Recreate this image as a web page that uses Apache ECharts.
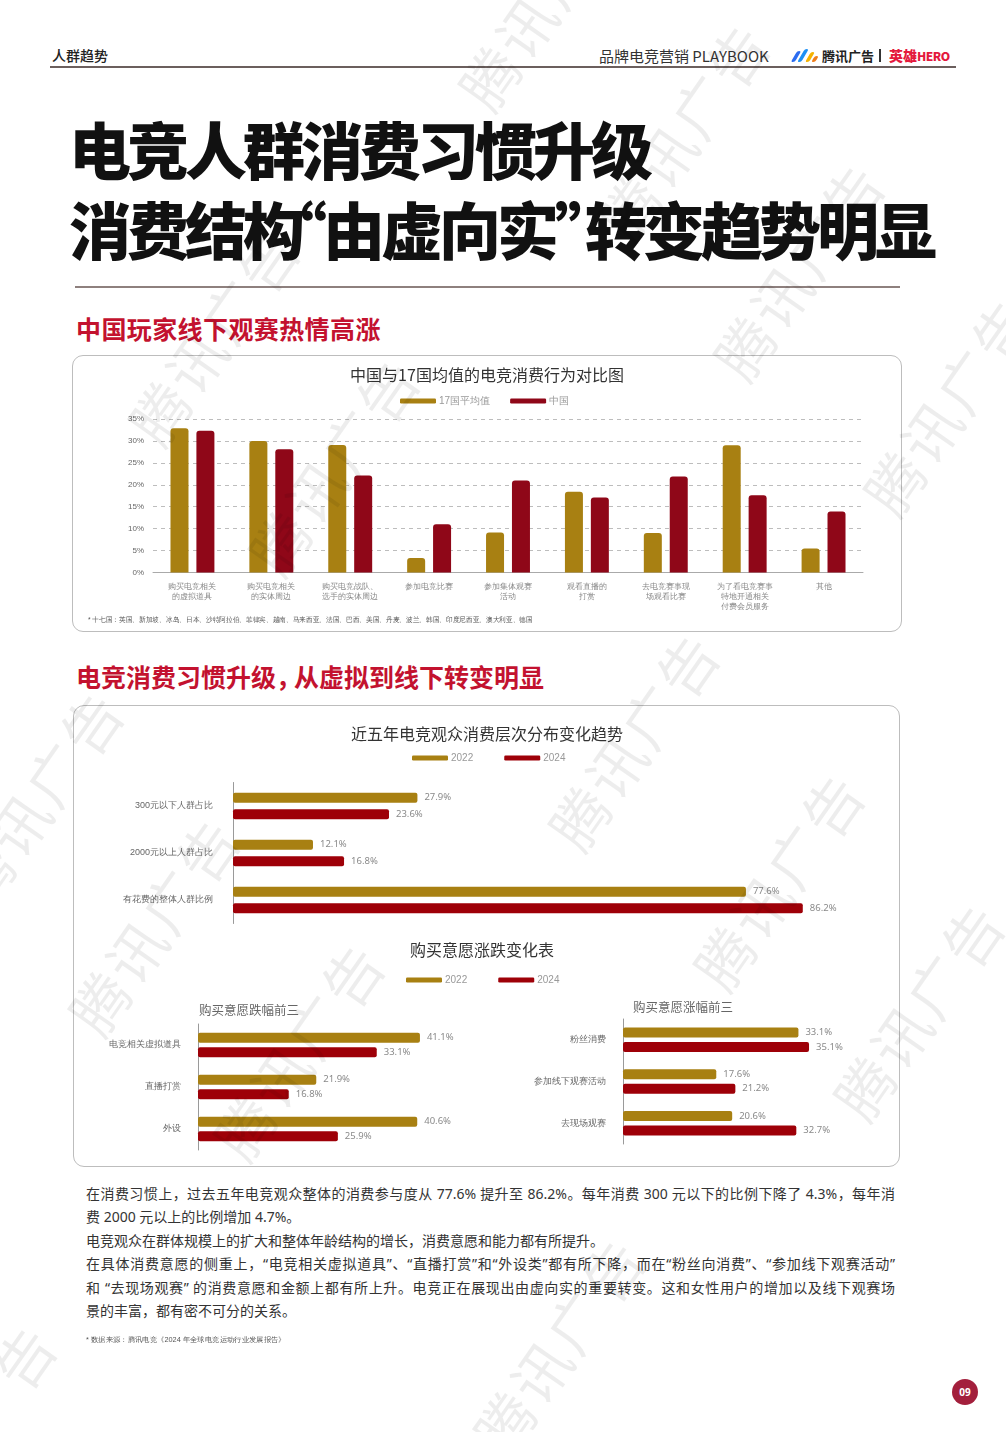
<!DOCTYPE html>
<html lang="zh-CN">
<head>
<meta charset="utf-8">
<script src="https://cdn.jsdelivr.net/npm/echarts@6/dist/echarts.min.js"></script>
<style>
  html,body{margin:0;padding:0;background:#fff;}
  body{width:1006px;height:1432px;position:relative;overflow:hidden;font-family:"Noto Sans CJK SC","Noto Sans",sans-serif;}
  .abs{position:absolute;white-space:nowrap;}
  .box{position:absolute;border:1px solid #bdbdbd;border-radius:11px;box-sizing:border-box;}
  .big{position:absolute;left:69px;font-size:62px;line-height:76px;font-weight:900;color:#111;letter-spacing:-4px;white-space:nowrap;}
  .sec{position:absolute;left:76px;font-size:25px;line-height:32px;font-weight:700;color:#c3122f;white-space:nowrap;}
  .para{position:absolute;left:86px;width:809px;font-size:14px;line-height:23.4px;color:#333;font-family:"Noto Sans","Noto Sans CJK SC",sans-serif;}
  .para div{white-space:nowrap;}
  .para .j{text-align:justify;text-align-last:justify;}
  #wm{position:absolute;left:0;top:0;width:1006px;height:1432px;pointer-events:none;z-index:5;overflow:hidden;}
  #wm span{position:absolute;transform:translate(-50%,-50%) rotate(-55deg);font-size:58px;letter-spacing:4px;color:rgba(0,0,0,0.07);white-space:nowrap;font-family:"Noto Sans CJK SC",sans-serif;}
  #chart{position:absolute;left:0;top:0;width:1006px;height:1432px;z-index:2;}
</style>
</head>
<body>
<!-- header -->
<div class="abs" style="left:52px;top:45px;font-size:14px;line-height:20px;font-weight:500;color:#222;">人群趋势</div>
<div class="abs" style="left:599px;top:46px;font-size:15px;line-height:20px;color:#333;">品牌电竞营销 PLAYBOOK</div>
<div class="abs" style="left:792px;top:49px;width:26px;height:14px;">
  <div style="position:absolute;left:2px;top:2px;width:4px;height:11px;background:#2b6cf0;transform:skewX(-30deg);border-radius:2px;"></div>
  <div style="position:absolute;left:9px;top:0px;width:4px;height:13px;background:#1d8ff5;transform:skewX(-30deg);border-radius:2px;"></div>
  <div style="position:absolute;left:16px;top:3px;width:4px;height:10px;background:#f5b301;transform:skewX(-30deg);border-radius:2px;"></div>
  <div style="position:absolute;left:21px;top:7px;width:4px;height:6px;background:#ef7d1a;transform:skewX(-30deg);border-radius:2px;"></div>
</div>
<div class="abs" style="left:822px;top:46px;font-size:13px;line-height:20px;font-weight:700;color:#222;">腾讯广告</div>
<div class="abs" style="left:879px;top:49px;width:1.5px;height:13px;background:#333;"></div>
<div class="abs" style="left:889px;top:45px;font-size:14px;line-height:20px;font-weight:900;color:#e4193d;">英雄<span style="font-size:12px;letter-spacing:-0.5px;">HERO</span></div>
<div class="abs" style="left:50px;top:66px;width:906px;height:2px;background:#6b5f5d;"></div>

<!-- big title -->
<div class="big" style="top:110px;">电竞人群消费习惯升级</div>
<div class="big" style="top:190px;">消费结构<span style="margin-left:-36px;">“</span>由虚向实<span style="margin-right:-28px;">”</span>转变趋势明显</div>
<div class="abs" style="left:75px;top:286px;width:825px;height:2px;background:#8e807e;"></div>

<!-- sections -->
<div class="sec" style="top:312px;letter-spacing:0.4px;">中国玩家线下观赛热情高涨</div>
<div class="box" style="left:72px;top:355px;width:830px;height:277px;"></div>
<div class="sec" style="top:660px;">电竞消费习惯升级<span style="margin-right:-7px;">，</span>从虚拟到线下转变明显</div>
<div class="box" style="left:73px;top:705px;width:827px;height:462px;"></div>

<!-- paragraph -->
<div class="para" style="top:1182px;">
  <div class="j">在消费习惯上，过去五年电竞观众整体的消费参与度从 77.6% 提升至 86.2%。每年消费 300 元以下的比例下降了 4.3%，每年消</div>
  <div>费 2000 元以上的比例增加 4.7%。</div>
  <div>电竞观众在群体规模上的扩大和整体年龄结构的增长，消费意愿和能力都有所提升。</div>
  <div class="j">在具体消费意愿的侧重上，“电竞相关虚拟道具”、“直播打赏”和“外设类”都有所下降，而在“粉丝向消费”、“参加线下观赛活动”</div>
  <div class="j">和 “去现场观赛” 的消费意愿和金额上都有所上升。电竞正在展现出由虚向实的重要转变。这和女性用户的增加以及线下观赛场</div>
  <div>景的丰富，都有密不可分的关系。</div>
</div>

<!-- page number -->
<div class="abs" style="left:952px;top:1379px;width:26px;height:26px;border-radius:13px;background:#a31f3c;color:#fff;font-size:10px;font-weight:700;line-height:26px;text-align:center;font-family:'Noto Sans',sans-serif;">09</div>

<div id="chart"></div>
<div id="wm"></div>

<script>
// ---------- data ----------
const behaviorCategories = [
  '购买电竞相关\n的虚拟道具',
  '购买电竞相关\n的实体周边',
  '购买电竞战队、\n选手的实体周边',
  '参加电竞比赛',
  '参加集体观赛\n活动',
  '观看直播的\n打赏',
  '去电竞赛事现\n场观看比赛',
  '为了看电竞赛事\n特地开通相关\n付费会员服务',
  '其他'
];
const avg17 = [32.9, 30.0, 29.1, 3.3, 9.1, 18.4, 9.0, 29.0, 5.5];
const china = [32.3, 28.1, 22.1, 11.0, 21.0, 17.1, 21.9, 17.6, 13.9];
const percentTicks = [0, 5, 10, 15, 20, 25, 30, 35];

const tierCategories = ['300元以下人群占比', '2000元以上人群占比', '有花费的整体人群比例'];
const tier2022 = [27.9, 12.1, 77.6];
const tier2024 = [23.6, 16.8, 86.2];

const dropCategories = ['电竞相关虚拟道具', '直播打赏', '外设'];
const drop2022 = [41.1, 21.9, 40.6];
const drop2024 = [33.1, 16.8, 25.9];

const riseCategories = ['粉丝消费', '参加线下观赛活动', '去现场观赛'];
const rise2022 = [33.1, 17.6, 20.6];
const rise2024 = [35.1, 21.2, 32.7];

// ---------- styles ----------
const GOLD = '#a88012';
const RED1 = '#8f0718';
const RED2 = '#9e0008';

// ---------- watermarks ----------
const wmFirst = [[490,75],[630,205],[160,410],[280,540],[745,345],[895,480],[-16,873],[580,815],[100,1000],[725,955],[245,1125],[865,1085],[505,1420],[-83,1507]];
const wm = document.getElementById('wm');
wmFirst.forEach(p => {
  const s = document.createElement('span');
  s.textContent = '腾讯广告';
  s.style.left = (p[0] + 53) + 'px';
  s.style.top = (p[1] - 76) + 'px';
  wm.appendChild(s);
});

// ---------- chart ----------
const chart = echarts.init(document.getElementById('chart'), null, {renderer: 'canvas'});

function barLabel() {
  return {show: true, position: 'right', distance: 7, formatter: '{c}%', fontSize: 9.5, color: '#8a8a8a', fontFamily: 'Noto Sans, sans-serif'};
}
function hBars(idx, d22, d24, gap) {
  return [
    {name: '2022', type: 'bar', xAxisIndex: idx, yAxisIndex: idx, data: d22, barWidth: 10, barGap: gap,
     itemStyle: {color: GOLD, borderRadius: 2}, label: barLabel()},
    {name: '2024', type: 'bar', xAxisIndex: idx, yAxisIndex: idx, data: d24, barWidth: 10, barGap: gap,
     itemStyle: {color: RED2, borderRadius: 2}, label: barLabel()}
  ];
}
function catAxis(idx, data, offset, margin) {
  return {gridIndex: idx, type: 'category', data: data, inverse: true, offset: offset,
    axisLine: {show: true, lineStyle: {color: '#9a9a9a', width: 1}}, axisTick: {show: false},
    axisLabel: {fontSize: 9, color: '#666', margin: margin}};
}
function valAxis(idx, max) {
  return {gridIndex: idx, type: 'value', min: 0, max: max, show: false};
}
function txt(x, y, text, size, color) {
  return {type: 'text', x: x, y: y, z: 10,
    style: {text: text, fontSize: size, fill: color, align: 'center', verticalAlign: 'middle',
      textAlign: 'center', textVerticalAlign: 'middle', fontFamily: 'Noto Sans CJK SC, sans-serif'}};
}
const legendCommon = {itemWidth: 36, itemHeight: 5, icon: 'roundRect', selectedMode: false, padding: 0,
  textStyle: {fontSize: 10, color: '#999', padding: [0, 0, 0, -2]}};

const option = {
  animation: false,
  graphic: [
    txt(487, 375, '中国与17国均值的电竞消费行为对比图', 16, '#333'),
    txt(487, 734, '近五年电竞观众消费层次分布变化趋势', 16, '#333'),
    txt(482, 950, '购买意愿涨跌变化表', 16, '#333'),
    txt(249, 1010, '购买意愿跌幅前三', 12.5, '#666'),
    txt(683, 1007, '购买意愿涨幅前三', 12.5, '#666'),
    {type: 'text', x: 88, y: 620, z: 10, scaleX: 0.953, style: {text: '* 十七国：英国、新加坡、冰岛、日本、沙特阿拉伯、菲律宾、越南、马来西亚、法国、巴西、美国、丹麦、波兰、韩国、印度尼西亚、澳大利亚、德国', fontSize: 7, fill: '#555', verticalAlign: 'middle', textVerticalAlign: 'middle'}},
    {type: 'text', x: 86, y: 1340, z: 10, scaleX: 1.05, style: {text: '* 数据来源：腾讯电竞《2024 年全球电竞运动行业发展报告》', fontSize: 7, fill: '#555', verticalAlign: 'middle', textVerticalAlign: 'middle'}}
  ],
  legend: [
    Object.assign({data: ['17国平均值', '中国'], left: 400, top: 396, itemGap: 20}, legendCommon),
    Object.assign({data: ['2022', '2024'], left: 412, top: 753, itemGap: 31}, legendCommon),
    Object.assign({data: ['2022', '2024'], left: 406, top: 975, itemGap: 31}, legendCommon)
  ],
  grid: [
    {left: 153, top: 419, width: 710, height: 153.5},
    {left: 233, top: 782.5, width: 661, height: 141},
    {left: 198, top: 1024, width: 270, height: 126},
    {left: 623, top: 1019, width: 265, height: 125}
  ],
  xAxis: [
    {gridIndex: 0, type: 'category', data: behaviorCategories,
     axisLine: {lineStyle: {color: '#aaa'}}, axisTick: {show: false},
     axisLabel: {interval: 0, fontSize: 8, color: '#888', lineHeight: 10, margin: 9}},
    valAxis(1, 100), valAxis(2, 50), valAxis(3, 50)
  ],
  yAxis: [
    {gridIndex: 0, type: 'value', min: percentTicks[0], max: percentTicks[percentTicks.length - 1], interval: percentTicks[1] - percentTicks[0],
     axisLabel: {formatter: '{value}%', fontSize: 8, color: '#666', margin: 9},
     splitLine: {lineStyle: {type: [4, 4], color: '#bdbdbd'}}, axisLine: {show: false}, axisTick: {show: false}},
    catAxis(1, tierCategories, 9, 11),
    catAxis(2, dropCategories, 8, 9),
    catAxis(3, riseCategories, 9, 8)
  ],
  series: [
    {name: '17国平均值', type: 'bar', xAxisIndex: 0, yAxisIndex: 0, data: avg17, barWidth: 18, barGap: '44%',
     itemStyle: {color: GOLD, borderRadius: [3, 3, 0, 0]}},
    {name: '中国', type: 'bar', xAxisIndex: 0, yAxisIndex: 0, data: china, barWidth: 18, barGap: '44%',
     itemStyle: {color: RED1, borderRadius: [3, 3, 0, 0]}},
    ...hBars(1, tier2022, tier2024, '66%'),
    ...hBars(2, drop2022, drop2024, '45%'),
    ...hBars(3, rise2022, rise2024, '45%')
  ]
};
chart.setOption(option);
</script>
</body>
</html>
